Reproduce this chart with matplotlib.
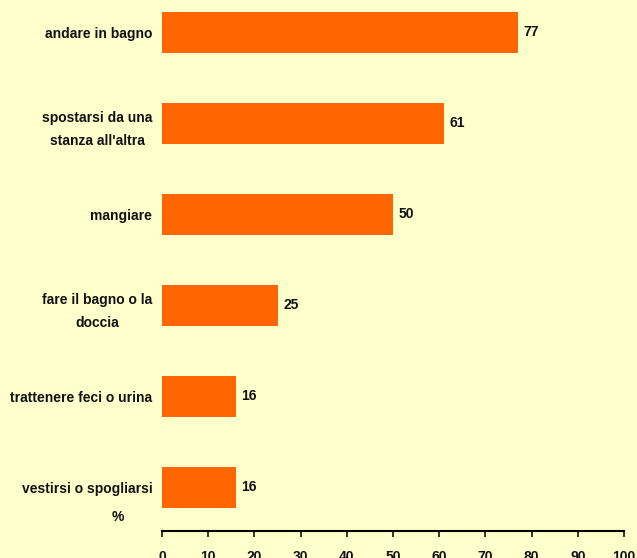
import matplotlib.pyplot as plt

categories = ["andare in bagno", "spostarsi da una\nstanza all'altra", "mangiare",
              "fare il bagno o la\ndoccia", "trattenere feci o urina", "vestirsi o spogliarsi"]
values = [77, 61, 50, 25, 16, 16]
ticks = list(range(0, 101, 10))

plt.rcParams['font.family'] = ['Liberation Sans', 'DejaVu Sans']
bg = '#FFFFCC'

fig = plt.figure(figsize=(6.37, 5.58), dpi=100, facecolor=bg)
ax = fig.add_axes([162 / 637, 27 / 558, 462 / 637, 531 / 558], facecolor=bg)

pos = list(range(len(categories) - 1, -1, -1))
ax.barh(pos, values, height=0.45, color='#FF6600')
for p, v in zip(pos, values):
    ax.text(v + 1.2, p, str(v), va='center', ha='left', fontsize=10, fontweight='bold', color='#111111')

ax.set_xlim(0, 100)
ax.set_ylim(-0.48, 5.357)
ax.set_xticks(ticks)
ax.set_xticklabels([str(t) for t in ticks], fontsize=10, fontweight='bold')
ax.set_yticks(pos)
ax.set_yticklabels(categories, fontsize=10, fontweight='bold', multialignment='center', linespacing=1.85)
ax.tick_params(axis='y', length=0, pad=7, colors='#111111')
ax.tick_params(axis='x', length=4, width=1.2, pad=10, direction='out', colors='#111111')
for s in ['top', 'right', 'left']:
    ax.spines[s].set_visible(False)
ax.spines['bottom'].set_linewidth(1.5)

fig.text(118 / 637, 1 - 517 / 558, '%', ha='center', va='center', fontsize=10, fontweight='bold', color='#111111')

fig.savefig('out.png', dpi=100, facecolor=bg)
